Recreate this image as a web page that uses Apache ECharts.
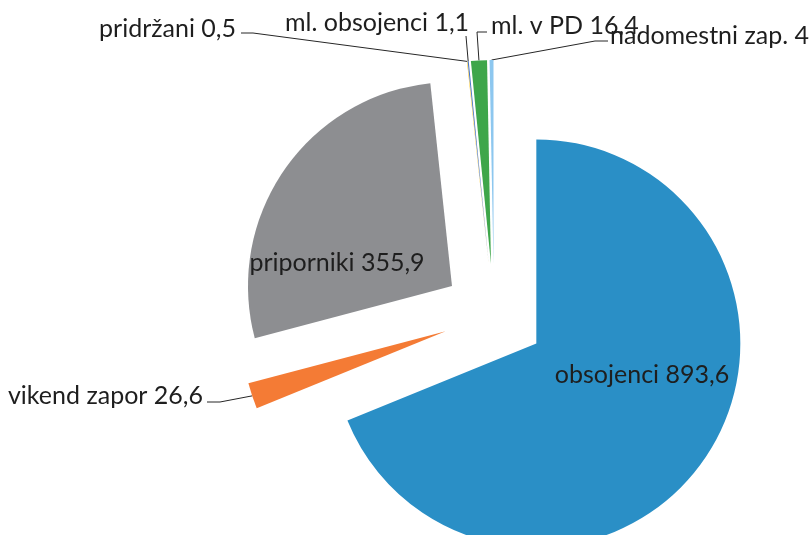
<!DOCTYPE html>
<html>
<head>
<meta charset="utf-8">
<script src="https://cdn.jsdelivr.net/npm/echarts@6/dist/echarts.min.js"></script>
<style>
  html, body { margin: 0; padding: 0; background: #fff; }
  #chart { width: 811px; height: 535px; }
</style>
</head>
<body>
<div id="chart"></div>
<script>
// podatki
var names = ['obsojenci', 'vikend zapor', 'priporniki', 'pridržani', 'ml. obsojenci', 'ml. v PD', 'nadomestni zap.'];
var values = [893.6, 26.6, 355.9, 0.5, 1.1, 16.4, 4];
var valueText = ['893,6', '26,6', '355,9', '0,5', '1,1', '16,4', '4'];
var colors = ['#2a8fc6', '#f47b35', '#8d8e91', '#ffc000', '#4472c4', '#3ea64a', '#8dc7ef'];

var center = [494, 315];
var explode = 51;

// kje stojijo napisi (x, y, poravnava, pregib crte, konec crte)
var labelPos = [
    { x: 642, y: 375, align: 'center', inside: true },
    { x: 203, y: 396, align: 'right', bend: [220, 402], end: [207, 402] },
    { x: 337, y: 263, align: 'center', inside: true },
    { x: 236, y: 29, align: 'right', bend: [253, 33], end: [241, 33] },
    { x: 377, y: 23, align: 'center', bend: [466, 36], end: [466, 36] },
    { x: 491, y: 26, align: 'left', bend: [477, 32], end: [487, 32] },
    { x: 610, y: 36, align: 'left', bend: [595, 41], end: [608, 41] }
];

var chart = echarts.init(document.getElementById('chart'));

var sliceData = names.map(function (n, i) {
    return { name: n, value: values[i], selected: true, itemStyle: { color: colors[i] } };
});

var labelData = names.map(function (n, i) {
    return {
        name: n,
        value: values[i],
        label: { position: labelPos[i].inside ? 'inside' : 'outside' },
        labelLine: { show: !labelPos[i].inside }
    };
});

chart.setOption({
    animation: false,
    series: [{
        // izvlecene rezine
        type: 'pie',
        center: center,
        radius: 204,
        startAngle: 90,
        clockwise: true,
        selectedMode: 'multiple',
        selectedOffset: explode,
        silent: true,
        itemStyle: { borderWidth: 0 },
        label: { show: false },
        labelLine: { show: false },
        emphasis: { disabled: true },
        data: sliceData
    }, {
        // samo napisi
        type: 'pie',
        center: center,
        radius: 204,
        startAngle: 90,
        clockwise: true,
        silent: true,
        avoidLabelOverlap: false,
        itemStyle: { color: 'rgba(0,0,0,0)', borderWidth: 0 },
        label: {
            fontFamily: 'Lato',
            fontSize: 25,
            color: '#1e1e1e',
            formatter: function (p) {
                return p.name + ' ' + valueText[p.dataIndex];
            }
        },
        labelLine: {
            lineStyle: { color: '#262626', width: 1 },
            length: 10,
            length2: 10
        },
        labelLayout: function (p) {
            var lp = labelPos[p.dataIndex];
            var out = { x: lp.x, y: lp.y, align: lp.align, verticalAlign: 'middle' };
            if (!lp.inside && p.labelLinePoints) {
                // zacetek crte premaknemo na rob izvlecene rezine
                var p0 = p.labelLinePoints[0];
                var dx = p0[0] - center[0], dy = p0[1] - center[1];
                var len = Math.sqrt(dx * dx + dy * dy);
                var start = [p0[0] + dx / len * explode, p0[1] + dy / len * explode];
                out.labelLinePoints = [start, lp.bend, lp.end];
            }
            return out;
        },
        emphasis: { disabled: true },
        data: labelData
    }]
});
</script>
</body>
</html>
